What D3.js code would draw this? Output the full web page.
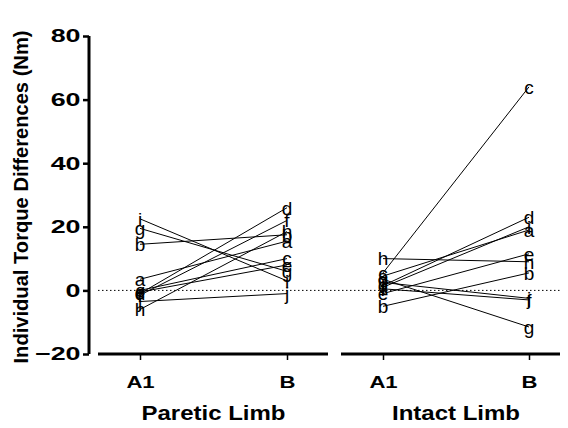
<!DOCTYPE html>
<html>
<head>
<meta charset="utf-8">
<script src="https://cdn.jsdelivr.net/npm/d3@7"></script>
<style>
  body { margin: 0; background: #fff; }
  text { font-family: "Liberation Sans", Arial, sans-serif; }
</style>
</head>
<body>
<svg id="chart" width="568" height="428"></svg>
<script>
// subjects and values
const subjects = ["a", "b", "c", "d", "e", "f", "g", "h", "i", "j"];
const pareticA1 = [3.5, 14.5, 0, -1, -0.5, -1.5, 19.5, -6, 22.5, -3.5];
const pareticB = [15.5, 17.5, 10, 26, 8, 22, 6, 18.5, 3, -1];
const intactA1 = [4.5, -5, 5.5, 1.5, -1, 0.5, 3.5, 10, 1, 2.5];
const intactB = [19, 5.5, 64, 23, 11.5, -3, -11.5, 9, 20, -2.5];
const conditions = ["A1", "B"];
const groups = ["Paretic Limb", "Intact Limb"];
const yTicks = [-20, 0, 20, 40, 60, 80];

const FONT = "'Liberation Sans', Arial, sans-serif";
const svg = d3.select("#chart");

// the bold labels in the picture are drawn wider than the font's normal width
function stretch(sel, k) {
  sel.each(function () {
    const len = this.getComputedTextLength();
    d3.select(this).attr("textLength", len * k).attr("lengthAdjust", "spacingAndGlyphs");
  });
}

const y = d3.scaleLinear().domain([-20, 80]).range([354, 36]);

const panels = [
  { name: groups[0], a1: pareticA1, b: pareticB, range: [98, 328], pts: [140, 287] },
  { name: groups[1], a1: intactA1, b: intactB, range: [341, 560], pts: [383, 529] }
];

// zero reference line
svg.append("line")
  .attr("x1", 98).attr("x2", 560)
  .attr("y1", y(0)).attr("y2", y(0))
  .attr("stroke", "#000")
  .attr("stroke-width", 1)
  .attr("stroke-dasharray", "1.5,2.5");

// y axis
const yAxis = svg.append("g")
  .attr("transform", "translate(89,0)")
  .call(d3.axisLeft(y).tickValues(yTicks).tickSize(6).tickPadding(2.5).tickFormat(d3.format("d")));
yAxis.select(".domain").attr("stroke-width", 3).attr("d", "M0,36V354");
yAxis.selectAll(".tick line").attr("stroke-width", 2.5);
yAxis.selectAll(".tick text")
  .attr("font-size", 18.5).attr("font-weight", "bold").attr("font-family", FONT)
  .call(stretch, 1.45);

svg.append("text")
  .attr("transform", "translate(28,197) rotate(-90)")
  .attr("text-anchor", "middle")
  .attr("font-size", 19.5)
  .attr("font-weight", "bold")
  .attr("textLength", 333)
  .attr("lengthAdjust", "spacingAndGlyphs")
  .text("Individual Torque Differences (Nm)");

panels.forEach(p => {
  const x = d3.scalePoint().domain(conditions).range(p.pts);

  const ax = svg.append("g")
    .attr("transform", "translate(0,354)")
    .call(d3.axisBottom(x).tickSize(6));
  ax.select(".domain").attr("stroke-width", 3).attr("d", `M${p.range[0]},0H${p.range[1]}`);
  ax.selectAll(".tick line").attr("stroke-width", 1.5);
  ax.selectAll(".tick text")
    .attr("y", 34).attr("dy", null)
    .attr("font-size", 17).attr("font-weight", "bold").attr("font-family", FONT)
    .call(stretch, 1.3);

  svg.append("text")
    .attr("x", (p.pts[0] + p.pts[1]) / 2)
    .attr("y", 420)
    .attr("text-anchor", "middle")
    .attr("font-size", 20)
    .attr("font-weight", "bold")
    .text(p.name)
    .call(stretch, 1.2);

  const g = svg.append("g");
  subjects.forEach((s, i) => {
    g.append("line")
      .attr("x1", x("A1")).attr("y1", y(p.a1[i]))
      .attr("x2", x("B")).attr("y2", y(p.b[i]))
      .attr("stroke", "#000").attr("stroke-width", 1);
  });
  subjects.forEach((s, i) => {
    [["A1", p.a1[i]], ["B", p.b[i]]].forEach(([c, v]) => {
      g.append("text")
        .attr("x", x(c)).attr("y", y(v))
        .attr("dy", "0.36em")
        .attr("text-anchor", "middle")
        .attr("font-size", 19)
        .text(s);
    });
  });
});
</script>
</body>
</html>
